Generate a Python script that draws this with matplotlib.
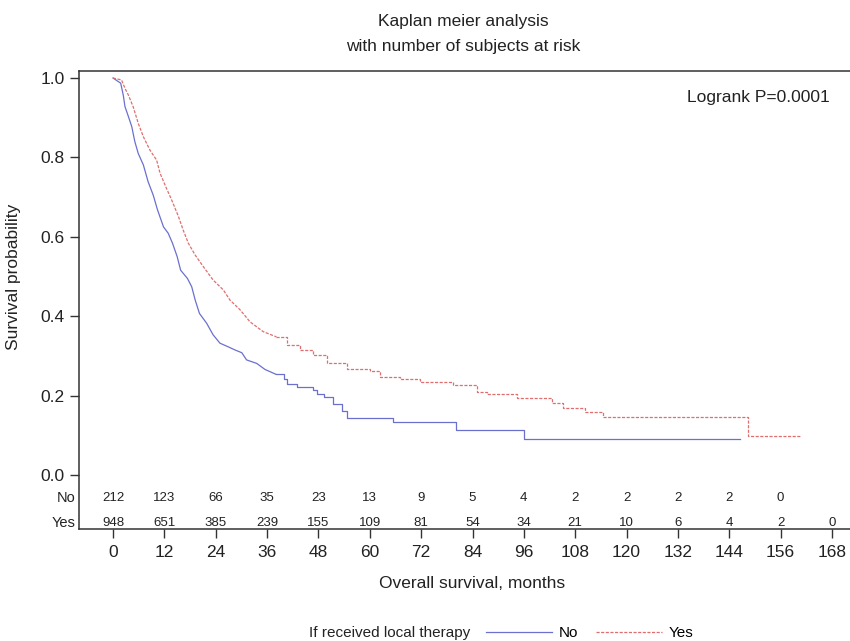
import numpy as np
import matplotlib
matplotlib.use("Agg")
import matplotlib.pyplot as plt
from matplotlib.lines import Line2D
import matplotlib.transforms as mtransforms

plt.rcParams['font.family'] = ['Liberation Sans', 'DejaVu Sans']

# survival curves (months, survival probability)
no_t = [0, 1.8, 2.4, 2.8, 3.6, 4.4, 5.1, 5.9, 7.1, 8.2, 9.4, 10.4, 11.8, 12.9, 13.9,
        15.0, 15.8, 17.4, 18.4, 19.2, 20.2, 21.9, 23.4, 25.0, 26.9, 28.5, 30.1, 31.2,
        33.6, 35.5, 38.0, 40.0, 40.7, 42.9, 46.7, 47.6, 49.4, 51.5, 53.5, 54.6, 65.5,
        80.1, 96.1, 146.6]
no_s = [1.0, 0.987, 0.957, 0.928, 0.903, 0.877, 0.840, 0.810, 0.781, 0.739, 0.705,
        0.668, 0.625, 0.609, 0.584, 0.550, 0.516, 0.495, 0.474, 0.441, 0.407, 0.382,
        0.353, 0.332, 0.323, 0.315, 0.308, 0.290, 0.281, 0.266, 0.254, 0.243, 0.229,
        0.221, 0.214, 0.205, 0.196, 0.178, 0.160, 0.144, 0.133, 0.113, 0.091, 0.091]

yes_t = [0, 2.0, 2.8, 3.6, 4.7, 5.9, 7.1, 8.6, 10.2, 11.0, 12.5, 13.7, 15.3, 16.4,
         17.6, 19.2, 21.1, 23.4, 25.8, 27.3, 29.7, 32.0, 35.1, 38.2, 40.6, 43.7, 46.8,
         49.9, 54.6, 60.0, 62.4, 67.1, 71.7, 79.5, 85.0, 87.3, 94.3, 102.5, 105.2,
         110.3, 114.6, 148.4, 160.5]
yes_s = [1.0, 0.995, 0.974, 0.957, 0.928, 0.886, 0.852, 0.819, 0.793, 0.760, 0.722,
         0.693, 0.651, 0.617, 0.584, 0.554, 0.525, 0.491, 0.466, 0.441, 0.416, 0.386,
         0.361, 0.348, 0.327, 0.315, 0.302, 0.281, 0.266, 0.262, 0.248, 0.243, 0.235,
         0.227, 0.210, 0.204, 0.193, 0.181, 0.168, 0.159, 0.147, 0.098, 0.098]

# number at risk
risk_times = list(range(0, 169, 12))
risk_no = [212, 123, 66, 35, 23, 13, 9, 5, 4, 2, 2, 2, 2, 0]
risk_yes = [948, 651, 385, 239, 155, 109, 81, 54, 34, 21, 10, 6, 4, 2, 0]

blue = '#6b70cf'
red = '#df6f6f'
red_ls = (0, (2.5, 1.2))

# early part has many small steps -> drawn as a jagged line, later part as steps
dense_until = 38.5

fig = plt.figure(figsize=(8.5, 6.41), dpi=100)
ax = fig.add_axes([79/850, 1-529/641, 1-79/850, (529-70.7)/641])


def km_line(t, s, **kw):
    t = np.asarray(t)
    s = np.asarray(s)
    k = np.searchsorted(t, dense_until)
    ax.plot(t[:k], s[:k], **kw)
    ax.plot(t[k-1:], s[k-1:], drawstyle='steps-post', **kw)


km_line(no_t, no_s, color=blue, lw=0.9)
km_line(yes_t, yes_s, color=red, lw=0.9, linestyle=red_ls)

ax.set_xlim(-7.94, 172.2)
ax.set_ylim(-0.136, 1.0184)
ax.set_xticks(risk_times)
ax.set_yticks([0, 0.2, 0.4, 0.6, 0.8, 1.0])
ax.set_yticklabels(['0.0', '0.2', '0.4', '0.6', '0.8', '1.0'])
ax.tick_params(axis='both', labelsize=12.5, length=6.5, width=1.0, color='#333333',
               labelcolor='#222222')
ax.tick_params(axis='x', pad=5)
ax.tick_params(axis='y', pad=4)
ax.spines['right'].set_visible(False)
for sp in ['left', 'top', 'bottom']:
    ax.spines[sp].set_color('#333333')
    ax.spines[sp].set_linewidth(1.1)

# risk table inside the axes
row_y = {'No': -0.057, 'Yes': -0.121}
for t, n in zip(risk_times, risk_no):
    ax.text(t, row_y['No'], str(n), ha='center', va='center', fontsize=9.5, color='#222222')
for t, n in zip(risk_times, risk_yes):
    ax.text(t, row_y['Yes'], str(n), ha='center', va='center', fontsize=9.5, color='#222222')
trans = mtransforms.blended_transform_factory(ax.transAxes, ax.transData)
for lab, yy in row_y.items():
    ax.text(-0.004, yy, lab, ha='right', va='center', fontsize=10.5, color='#222222',
            transform=trans)

ax.text(0.974, 0.9405, 'Logrank P=0.0001', transform=ax.transAxes, ha='right',
        va='center', fontsize=12.5, color='#222222')

fig.text(463/850, 1-21.7/641, 'Kaplan meier analysis', ha='center', va='center',
         fontsize=12.5, color='#222222')
fig.text(463/850, 1-46/641, 'with number of subjects at risk', ha='center', va='center',
         fontsize=12.5, color='#222222')
fig.text(14/850, 1-276.5/641, 'Survival probability', rotation=90, ha='center',
         va='center', fontsize=12.5, color='#222222')
fig.text(472/850, 1-583/641, 'Overall survival, months', ha='center', va='center',
         fontsize=12.5, color='#222222')

# legend at the bottom
fig.text(470/850, 1-633/641, 'If received local therapy', ha='right', va='center',
         fontsize=11, color='#222222')
handles = [Line2D([], [], color=blue, lw=0.9),
           Line2D([], [], color=red, lw=0.9, linestyle=red_ls)]
fig.legend(handles, ['No', 'Yes'], ncol=2, loc='center left',
           bbox_to_anchor=(486/850, 1-633/641), frameon=False, fontsize=11,
           handlelength=4.3, handletextpad=0.45, columnspacing=1.2,
           borderpad=0, borderaxespad=0)

fig.savefig('out.png', dpi=100)
